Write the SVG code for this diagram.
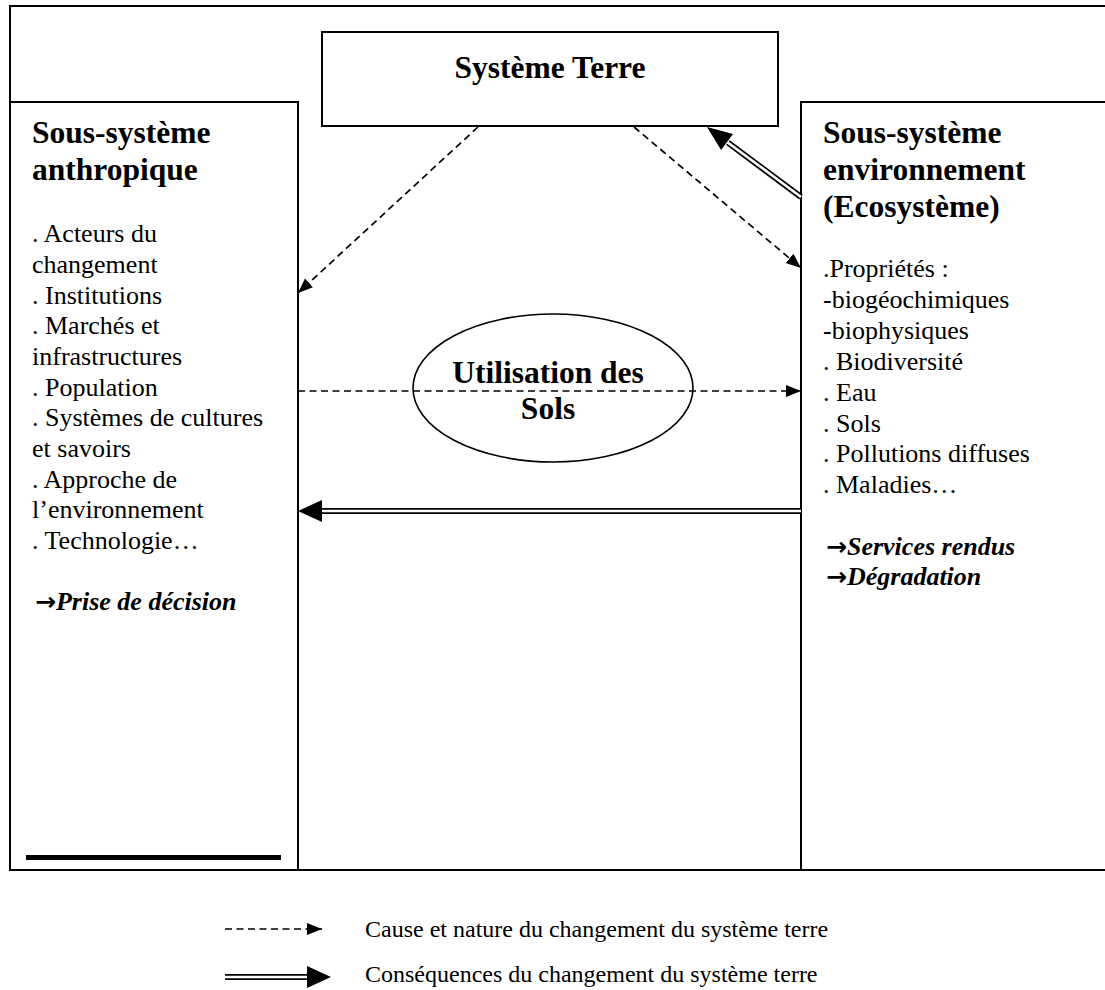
<svg xmlns="http://www.w3.org/2000/svg" width="1105" height="990" viewBox="0 0 1105 990">
<style>
  .frame { fill: none; stroke: #000; stroke-width: 2; }
  .h { font-family: "Liberation Serif", "Times New Roman", serif; font-weight: bold; font-size: 31.5px; fill: #000; }
  .b { font-family: "Liberation Serif", "Times New Roman", serif; font-size: 26px; fill: #000; }
  .bi { font-family: "Liberation Serif", "Times New Roman", serif; font-size: 26px; font-weight: bold; font-style: italic; fill: #000; }
  .ar { font-family: "DejaVu Sans", sans-serif; font-style: normal; font-weight: bold; font-size: 25px; }
  .lg { font-family: "Liberation Serif", "Times New Roman", serif; font-size: 24px; fill: #000; }
  .dash { fill: none; stroke: #000; stroke-width: 1.7; stroke-dasharray: 7 4.5; }
  .dblo { fill: none; stroke: #000; stroke-width: 6; }
  .dbli { fill: none; stroke: #fff; stroke-width: 2.6; }
  .head { fill: #000; stroke: none; }
</style>
<defs>
  <marker id="ah" markerUnits="userSpaceOnUse" markerWidth="16" markerHeight="13" refX="15" refY="6" orient="auto">
    <path d="M0,0 L15,6 L0,12 z" fill="#000"/>
  </marker>
</defs>
<rect width="1105" height="990" fill="#fff"/>

<g id="frame">
  <path class="frame" d="M10,102 L10,6 L1105,6"/>
  <path class="frame" d="M298,870 L801,870"/>
</g>

<g id="systeme-terre">
  <rect class="frame" x="322" y="32" width="456" height="94" fill="#fff"/>
  <text class="h" x="550" y="78" text-anchor="middle">Système Terre</text>
</g>

<g id="sous-systeme-anthropique">
  <rect class="frame" x="10" y="102" width="288" height="768"/>
  <text class="h"><tspan x="32" y="143">Sous-système</tspan><tspan x="32" y="180">anthropique</tspan></text>
  <text class="b">
    <tspan x="32" y="242">. Acteurs du</tspan>
    <tspan x="32" y="273">changement</tspan>
    <tspan x="32" y="304">. Institutions</tspan>
    <tspan x="32" y="334">. Marchés et</tspan>
    <tspan x="32" y="365">infrastructures</tspan>
    <tspan x="32" y="396">. Population</tspan>
    <tspan x="32" y="426">. Systèmes de cultures</tspan>
    <tspan x="32" y="457">et savoirs</tspan>
    <tspan x="32" y="488">. Approche de</tspan>
    <tspan x="32" y="518">l’environnement</tspan>
    <tspan x="32" y="549">. Technologie…</tspan>
  </text>
  <text class="bi" x="35" y="610"><tspan class="ar">→</tspan>Prise de décision</text>
  <rect x="26" y="855" width="255" height="5" fill="#000"/>
</g>

<g id="sous-systeme-environnement">
  <path class="frame" d="M1106,102 L801,102 L801,870 L1106,870"/>
  <text class="h"><tspan x="823" y="143">Sous-système</tspan><tspan x="823" y="180">environnement</tspan><tspan x="823" y="217">(Ecosystème)</tspan></text>
  <text class="b">
    <tspan x="823" y="277">.Propriétés :</tspan>
    <tspan x="823" y="308">-biogéochimiques</tspan>
    <tspan x="823" y="339">-biophysiques</tspan>
    <tspan x="823" y="370">. Biodiversité</tspan>
    <tspan x="823" y="401">. Eau</tspan>
    <tspan x="823" y="432">. Sols</tspan>
    <tspan x="823" y="462">. Pollutions diffuses</tspan>
    <tspan x="823" y="493">. Maladies…</tspan>
  </text>
  <text class="bi" x="826" y="555"><tspan class="ar">→</tspan>Services rendus</text>
  <text class="bi" x="826" y="585"><tspan class="ar">→</tspan>Dégradation</text>
</g>

<g id="connectors">
  <line class="dash" x1="478" y1="127" x2="298" y2="293" marker-end="url(#ah)"/>
  <line class="dash" x1="634" y1="127" x2="801" y2="268" marker-end="url(#ah)"/>
  <line class="dash" x1="298" y1="391" x2="801" y2="391" marker-end="url(#ah)"/>
  <path class="dblo" d="M801,197 L728,142.6"/>
  <path class="dbli" d="M801,197 L726,141.2"/>
  <polygon class="head" points="707,127 733,133.9 721.1,149.9"/>
  <path class="dblo" d="M801,511 L321,511"/>
  <path class="dbli" d="M801,511 L319,511"/>
  <polygon class="head" points="298,511 322,500 322,522"/>
</g>

<g id="utilisation-des-sols">
  <ellipse cx="553" cy="388" rx="140" ry="74" fill="none" stroke="#000" stroke-width="1.6"/>
  <text class="h" text-anchor="middle"><tspan x="548" y="383">Utilisation des</tspan><tspan x="548" y="419">Sols</tspan></text>
</g>

<g id="legend">
  <line class="dash" x1="225" y1="929" x2="322" y2="929" marker-end="url(#ah)"/>
  <text class="lg" x="365" y="937">Cause et nature du changement du système terre</text>
  <path class="dblo" d="M225,977 L309,977"/>
  <path class="dbli" d="M224,977 L309,977"/>
  <polygon class="head" points="307,966 331,977 307,988"/>
  <text class="lg" x="365" y="982">Conséquences du changement du système terre</text>
</g>
</svg>
